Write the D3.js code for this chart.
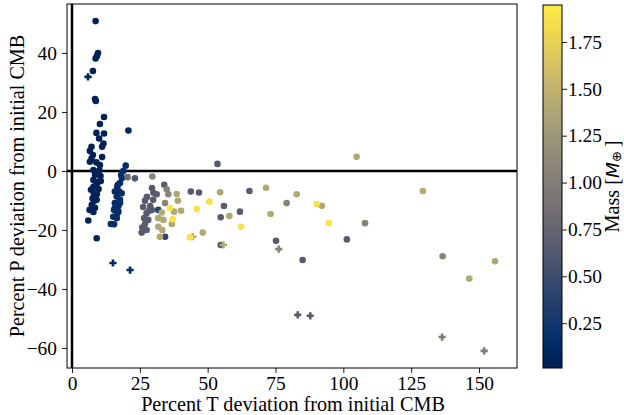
<!DOCTYPE html>
<html><head><meta charset="utf-8">
<script src="https://cdn.jsdelivr.net/npm/d3@7"></script>
<style>
body{margin:0;background:#fff;}
svg{display:block;}
text{font-family:"Liberation Serif","Times New Roman",serif;fill:#000;}
</style></head><body>
<svg id="chart" width="624" height="415"></svg>
<script>
// ---- data ----
// each group: T deviation (%), P deviation (%), mass (M_earth), marker
const groupA_T = [8.7,9.6,9.2,8.7,7.7,5.9,8.5,8.8,11.8,10.3,9.0,11.8,10.0,11.6,7.2,11.1,6.6,7.7,11.1,7.2,6.6,9.0,10.3,7.9,10.1,8.5,10.5,7.9,9.7,10.6,9.1,7.9,7.0,9.8,8.1,9.2,7.6,9.1,8.1,7.3,8.5,6.5,7.9,6.0,9.1];
const groupA_P = [50.8,40.0,39.0,38.1,33.9,31.9,24.4,23.7,18.3,15.9,12.9,12.7,11.0,9.3,8.2,8.2,6.8,5.4,4.7,4.1,3.1,2.9,2.0,0.3,0.2,-1.4,-1.7,-3.1,-3.7,-3.4,-4.4,-5.4,-6.4,-6.1,-7.6,-7.8,-9.3,-9.8,-10.2,-11.5,-12.5,-13.2,-13.9,-16.8,-22.8];
const groupA_M = groupA_T.map(() => 0.04);
const groupA_K = groupA_T.map((d,i) => i === 5 ? "P" : "o");

const groupB_T = [20.8,19.8,18.9,18.1,18.4,17.7,16.9,16.7,15.8,17.4,18.3,16.5,17.7,15.8,17.7,17.1,15.8,15.5,17.1,16.7,15.2,16.5,14.3,15.5,15.1,21.4];
const groupB_P = [13.7,1.8,0.0,-1.4,-2.4,-4.1,-4.7,-5.4,-7.0,-7.0,-7.6,-8.7,-9.8,-10.9,-10.9,-11.9,-12.6,-13.2,-13.8,-14.3,-15.5,-16.0,-18.0,-18.1,-31.2,-33.6];
const groupB_M = [0.08,0.16,0.16,0.16,0.16,0.16,0.16,0.16,0.16,0.16,0.16,0.16,0.16,0.16,0.16,0.16,0.16,0.16,0.16,0.16,0.16,0.16,0.16,0.16,0.12,0.12];
const groupB_K = ["o","o","o","o","o","o","o","o","o","o","o","o","o","o","o","o","o","o","o","o","o","o","o","o","P","P"];

const groupC_T = [20.5,23.2,34.0,29.5,30.0,31.2,27.6,29.9,26.9,28.8,26.2,28.4,29.4,27.5,26.6,28.1,26.9,25.9,27.5,25.7,31.8,34.3,43.8,46.8,65.4,56.0,61.9,54.8,54.8,53.6,75.2,101.3,85.0,83.2,87.8];
const groupC_P = [-2.1,-2.5,-4.7,-5.8,-7.4,-7.9,-8.8,-9.8,-10.1,-11.9,-12.2,-13.5,-13.2,-14.3,-16.0,-16.6,-18.0,-19.2,-20.0,-20.9,-13.2,-22.3,-7.0,-7.3,-6.8,-11.9,-13.8,-15.7,-25.1,2.4,-23.7,-23.2,-30.2,-48.8,-49.1];
const groupC_M = [0.85,0.6,0.65,0.65,0.65,0.65,0.65,0.65,0.65,0.65,0.65,0.65,0.65,0.65,0.65,0.65,0.65,0.65,0.65,0.65,0.4,0.4,0.65,0.65,0.65,0.65,0.65,0.65,0.65,0.65,0.65,0.65,0.65,0.65,0.65];
const groupC_K = groupC_T.map((d,i) => i >= 33 ? "P" : "o");

const groupD_T = [29.6,34.9,35.5,34.3,79.1,108.0,76.2,136.6,136.4,151.9];
const groupD_P = [-1.9,-6.2,-7.9,-10.9,-10.9,-17.7,-26.5,-28.9,-56.3,-61.0];
const groupD_M = [1.1,1.05,1.05,1.05,1.05,1.05,1.05,1.05,1.0,1.0];
const groupD_K = ["o","o","o","o","o","o","P","o","P","P"];

const groupE_T = [38.6,39.0,40.2,33.1,37.6,31.8,33.7,36.8,31.8,33.3,32.4,48.2,44.5,54.6,58.0,55.8,71.5,82.8,92.1,73.2,104.9,129.3,146.4,155.9];
const groupE_P = [-7.8,-10.1,-13.5,-14.1,-13.8,-16.0,-16.6,-18.0,-18.9,-20.0,-22.3,-20.9,-22.3,-7.2,-15.3,-25.1,-5.7,-7.9,-11.8,-14.6,4.8,-6.8,-36.5,-30.6];
const groupE_M = groupE_T.map(() => 1.4);
const groupE_K = groupE_T.map((d,i) => (i === 12 || i === 15) ? "P" : "o");

const groupF_T = [36.1,37.1,46.0,50.6,43.5,62.3,90.2,94.7];
const groupF_P = [-12.6,-16.4,-12.9,-10.4,-22.5,-18.9,-11.2,-17.7];
const groupF_M = groupF_T.map(() => 1.88);
const groupF_K = groupF_T.map(() => "o");

const xTicks = [0,25,50,75,100,125,150];
const yTicks = [-60,-40,-20,0,20,40];
const cbTicks = [0.25,0.50,0.75,1.00,1.25,1.50,1.75];
const xDomain = [-1.84, 164.0];
const yDomain = [-66.8, 56.6];
const massDomain = [0.011, 1.947];

// ---- assemble ----
const groups = [
  [groupA_T, groupA_P, groupA_M, groupA_K],
  [groupB_T, groupB_P, groupB_M, groupB_K],
  [groupC_T, groupC_P, groupC_M, groupC_K],
  [groupD_T, groupD_P, groupD_M, groupD_K],
  [groupE_T, groupE_P, groupE_M, groupE_K],
  [groupF_T, groupF_P, groupF_M, groupF_K]
];
const points = [];
groups.forEach(([T,P,M,K]) => T.forEach((t,i) => points.push({t, p:P[i], m:M[i], k:K[i]})));

const svg = d3.select("#chart");
const L = 67, R = 517, T0 = 4, B = 368;
const x = d3.scaleLinear().domain(xDomain).range([L, R]);
const y = d3.scaleLinear().domain(yDomain).range([B, T0]);
const color = d3.scaleSequential(d3.interpolateCividis).domain(massDomain);
const FS = 19.4, LFS = 20.2;
const SERIF = '"Liberation Serif","Times New Roman",serif';

// clip
svg.append("clipPath").attr("id","clip").append("rect")
  .attr("x",L).attr("y",T0).attr("width",R-L).attr("height",B-T0);

const plot = svg.append("g").attr("clip-path","url(#clip)");

// reference lines
plot.append("line").attr("x1",x(0)).attr("x2",x(0)).attr("y1",T0).attr("y2",B)
  .attr("stroke","#000").attr("stroke-width",2.5);
plot.append("line").attr("x1",L).attr("x2",R).attr("y1",y(0)).attr("y2",y(0))
  .attr("stroke","#000").attr("stroke-width",2.5);

// markers
const plusPath = (cx, cy) => {
  const a = 3.6, b = 1.3;
  return `M${cx-b},${cy-a}H${cx+b}V${cy-b}H${cx+a}V${cy+b}H${cx+b}V${cy+a}H${cx-b}V${cy+b}H${cx-a}V${cy-b}H${cx-b}Z`;
};
points.forEach(d => {
  if (d.k === "P") {
    plot.append("path").attr("d", plusPath(x(d.t), y(d.p))).attr("fill", color(d.m));
  } else {
    plot.append("circle").attr("cx", x(d.t)).attr("cy", y(d.p)).attr("r", 3.3).attr("fill", color(d.m));
  }
});

// axes
const xAxis = d3.axisBottom(x).tickValues(xTicks).tickSize(5).tickPadding(3).tickFormat(d3.format("d"));
const gx = svg.append("g").attr("transform",`translate(0,${B})`).call(xAxis);
const minus = d => (d < 0 ? "\u2212" + Math.abs(d) : "" + d);
const yAxis = d3.axisLeft(y).tickValues(yTicks).tickSize(5).tickPadding(5).tickFormat(minus);
const gy = svg.append("g").attr("transform",`translate(${L},0)`).call(yAxis);
[gx, gy].forEach(g => {
  g.select(".domain").remove();
  g.selectAll("text").style("font-family",SERIF).style("font-size",FS+"px").attr("fill","#000");
  g.selectAll("line").attr("stroke","#000").attr("stroke-width",0.9);
});

// frame
svg.append("rect").attr("x",L).attr("y",T0).attr("width",R-L).attr("height",B-T0)
  .attr("fill","none").attr("stroke","#000").attr("stroke-width",1);

// axis labels
svg.append("text").attr("x",(L+R)/2 + 1).attr("y",411).attr("text-anchor","middle")
  .style("font-size",LFS+"px").text("Percent T deviation from initial CMB");
svg.append("text").attr("transform",`translate(24,${(T0+B)/2}) rotate(-90)`).attr("text-anchor","middle")
  .style("font-size",LFS+"px").text("Percent P deviation from initial CMB");

// colorbar
const cbL = 543, cbR = 562, cbT = 5, cbB = 368;
const cy = d3.scaleLinear().domain(massDomain).range([cbB, cbT]);
const grad = svg.append("defs").append("linearGradient").attr("id","cb")
  .attr("x1",0).attr("y1",1).attr("x2",0).attr("y2",0);
d3.range(0, 1.0001, 0.02).forEach(s => {
  grad.append("stop").attr("offset", s).attr("stop-color", d3.interpolateCividis(s));
});
svg.append("rect").attr("x",cbL).attr("y",cbT).attr("width",cbR-cbL).attr("height",cbB-cbT)
  .attr("fill","url(#cb)").attr("stroke","#000").attr("stroke-width",1);
const cAxis = d3.axisRight(cy).tickValues(cbTicks).tickSize(5).tickPadding(1).tickFormat(d3.format(".2f"));
const gc = svg.append("g").attr("transform",`translate(${cbR},0)`).call(cAxis);
gc.select(".domain").remove();
gc.selectAll("text").style("font-family",SERIF).style("font-size",FS+"px").attr("fill","#000");
gc.selectAll("line").attr("stroke","#000").attr("stroke-width",0.9);

const cbl = svg.append("text").attr("transform",`translate(619,${(cbT+cbB)/2}) rotate(-90)`).attr("text-anchor","middle")
  .style("font-size",LFS+"px");
cbl.append("tspan").text("Mass [");
cbl.append("tspan").style("font-family",'"DejaVu Sans",sans-serif').style("font-style","italic").style("font-size",(FS*0.95)+"px").text("M");
cbl.append("tspan").style("font-family",'"DejaVu Sans",sans-serif').style("font-size",(FS*0.66)+"px").attr("dy",2).text("\u2295");
cbl.append("tspan").attr("dy",-2).text("\u2009]");
</script>
</body></html>
